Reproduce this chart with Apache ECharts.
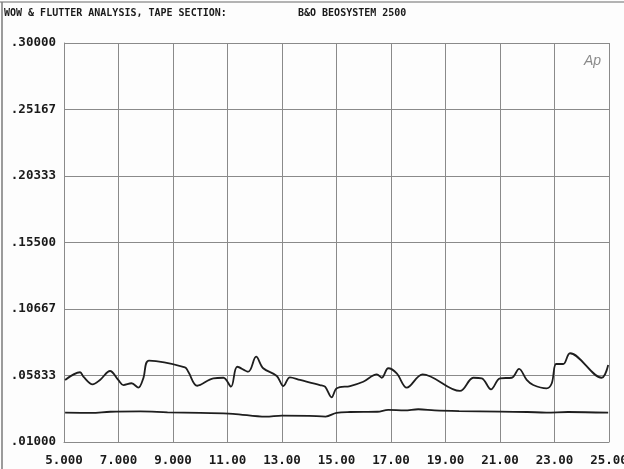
<!DOCTYPE html>
<html>
<head>
<meta charset="utf-8">
<script src="https://cdn.jsdelivr.net/npm/echarts@6/dist/echarts.min.js"></script>
<style>
  html, body { margin: 0; padding: 0; background: #fff; }
  #chart { width: 624px; height: 469px; }
</style>
</head>
<body>
<div id="chart"></div>
<script>
// upper trace (wow & flutter, wavy) as [x, value]
const upperX = [5.04, 5.59, 5.71, 6.05, 6.32, 6.69, 6.99, 7.18, 7.48, 7.73, 7.91, 8.12,
  9.44, 9.56, 9.89, 10.48, 10.85, 11.13, 11.36, 11.76, 12.05, 12.31, 12.81, 13.05, 13.29,
  13.66, 14.39, 14.58, 14.82, 15.01, 15.50, 15.98, 16.48, 16.66, 16.90, 17.21, 17.58, 18.16,
  19.53, 20.02, 20.33, 20.67, 21.00, 21.43, 21.70, 21.98, 22.22, 22.71, 22.90, 23.06, 23.32,
  23.57, 24.73, 24.97]
const upperY = [0.0551, 0.0607, 0.0575, 0.0519, 0.0551, 0.0616, 0.0551, 0.0514, 0.0527, 0.0495, 0.0563, 0.0691,
  0.0643, 0.0611, 0.0509, 0.0563, 0.0567, 0.0502, 0.0647, 0.0611, 0.0720, 0.0636, 0.0580, 0.0507, 0.0570,
  0.0551, 0.0514, 0.0502, 0.0425, 0.0490, 0.0507, 0.0538, 0.0592, 0.0567, 0.0636, 0.0599, 0.0495, 0.0592,
  0.0471, 0.0567, 0.0563, 0.0483, 0.0563, 0.0567, 0.0631, 0.0551, 0.0514, 0.0490, 0.0527, 0.0667, 0.0667,
  0.0745, 0.0567, 0.0660]

// lower trace (flat)
const lowerX = [5.04, 6.0, 6.7, 7.8, 8.8, 10.0, 11.2, 12.4, 13.0, 14.0, 14.6, 15.0, 15.5, 16.5,
  16.9, 17.5, 18.0, 18.6, 19.5, 21.0, 22.0, 22.7, 23.5, 24.97]
const lowerY = [0.0313, 0.0312, 0.0320, 0.0322, 0.0316, 0.0311, 0.0305, 0.0284, 0.0292, 0.0290, 0.0285, 0.0312, 0.0318, 0.0320,
  0.0334, 0.0330, 0.0338, 0.0330, 0.0325, 0.0321, 0.0318, 0.0314, 0.0318, 0.0313]

const xTicks = [5, 7, 9, 11, 13, 15, 17, 19, 21, 23, 25]
const xLabels = ['5.000', '7.000', '9.000', '11.00', '13.00', '15.00', '17.00', '19.00', '21.00', '23.00', '25.00']
const yTicks = [0.01, 0.05833, 0.10667, 0.155, 0.20333, 0.25167, 0.30]
const yLabels = ['.01000', '.05833', '.10667', '.15500', '.20333', '.25167', '.30000']

const font = 'DejaVu Sans Mono'

const option = {
  backgroundColor: '#fdfdfd',
  animation: false,
  title: [
    {
      text: 'WOW & FLUTTER ANALYSIS, TAPE SECTION:',
      left: 4, top: 8, padding: 0,
      textStyle: { fontFamily: font, fontSize: 10, fontWeight: 'bold', color: '#1a1a1a' }
    },
    {
      text: 'B&O BEOSYSTEM 2500',
      left: 298, top: 8, padding: 0,
      textStyle: { fontFamily: font, fontSize: 10, fontWeight: 'bold', color: '#1a1a1a' }
    }
  ],
  grid: { left: 64, right: 15, top: 43, bottom: 27, outerBoundsMode: 'none', containLabel: false },
  xAxis: {
    type: 'value',
    min: 5,
    max: 25,
    axisLine: { show: true, lineStyle: { color: '#8a8a8a', width: 1 } },
    axisTick: { show: false, customValues: xTicks },
    axisLabel: {
      customValues: xTicks,
      margin: 12,
      fontFamily: font, fontSize: 12.5, fontWeight: 'bold', color: '#1a1a1a',
      formatter: v => xLabels[xTicks.indexOf(v)]
    },
    splitLine: { show: true, lineStyle: { color: '#8a8a8a', width: 1 } }
  },
  yAxis: {
    type: 'value',
    min: 0.01,
    max: 0.30,
    axisLine: { show: true, lineStyle: { color: '#8a8a8a', width: 1 } },
    axisTick: { show: false, customValues: yTicks },
    axisLabel: {
      customValues: yTicks,
      margin: 8,
      fontFamily: font, fontSize: 12.5, fontWeight: 'bold', color: '#1a1a1a',
      formatter: v => yLabels[yTicks.indexOf(v)]
    },
    splitLine: { show: true, lineStyle: { color: '#8a8a8a', width: 1 } }
  },
  graphic: [
    { type: 'line', shape: { x1: 0, y1: 2, x2: 624, y2: 2 }, style: { stroke: '#9a9a9a', lineWidth: 1.5 } },
    { type: 'line', shape: { x1: 2, y1: 2, x2: 2, y2: 469 }, style: { stroke: '#7a7a7a', lineWidth: 1.5 } },
    { type: 'text', left: 584, top: 54, style: { text: 'Ap', font: 'italic 14px Liberation Sans', fill: '#8a8a8a' } }
  ],
  series: [
    {
      type: 'line',
      data: upperX.map((x, i) => [x, upperY[i]]),
      showSymbol: false,
      smooth: 0.35,
      lineStyle: { color: '#1e1e1e', width: 1.8 }
    },
    {
      type: 'line',
      data: lowerX.map((x, i) => [x, lowerY[i]]),
      showSymbol: false,
      smooth: 0.35,
      lineStyle: { color: '#1e1e1e', width: 1.8 }
    }
  ]
}

const chart = echarts.init(document.getElementById('chart'))
chart.setOption(option)
</script>
</body>
</html>
